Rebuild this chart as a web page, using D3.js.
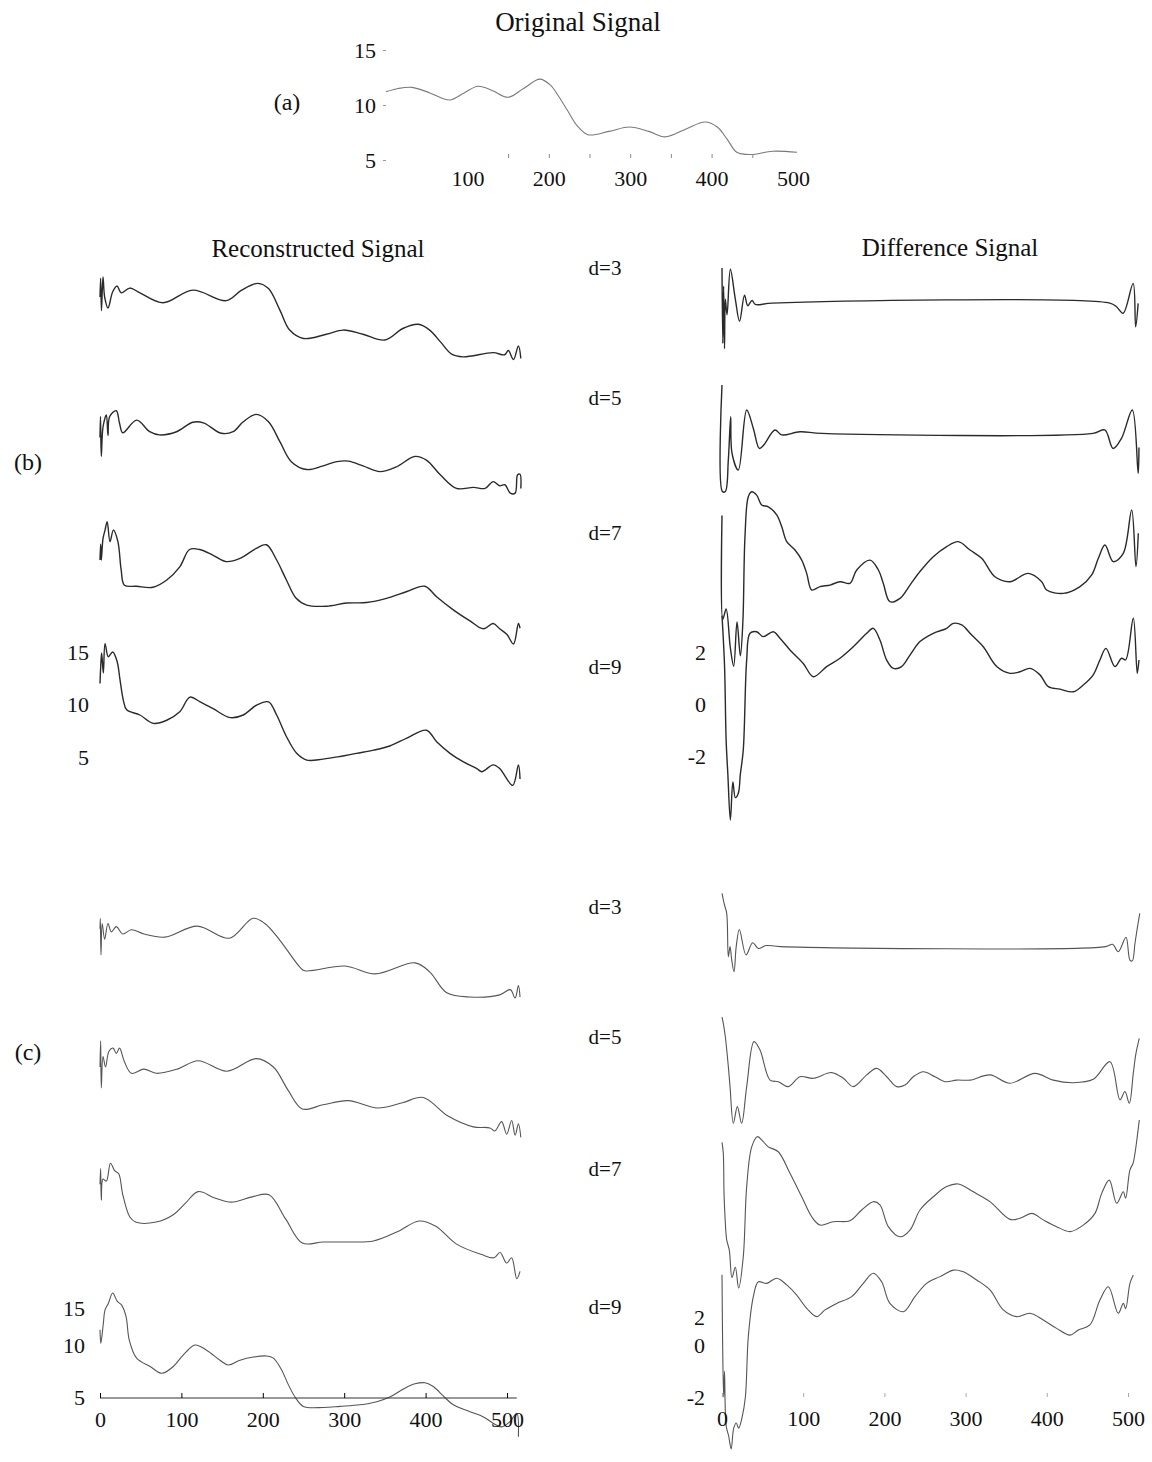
<html>
<head>
<meta charset="utf-8">
<title>Original, Reconstructed and Difference Signals</title>
<script src="https://cdn.jsdelivr.net/npm/d3@7"></script>
<style>
  body { margin: 0; background: #fff; }
  text { font-family: "Liberation Serif", "DejaVu Serif", serif; fill: #111; }
</style>
</head>
<body>
<script>
// sample index along the signal (x) and value (y)
let depths = ["d=3", "d=5", "d=7", "d=9"]
let xTicks = [0, 100, 200, 300, 400, 500]
let topTicks = [100, 200, 300, 400, 500]
let topMinor = [150, 200, 250, 300, 350, 400, 450]
let levelTicks = [15, 10, 5]
let diffTicks = [2, 0, -2]

let original = [[0,11.2],[15,11.5],[32,11.6],[54,11.1],[78,10.45],[96,11.1],[113,11.7],[131,11.3],[150,10.7],[169,11.5],[189,12.35],[202,11.8],[212,10.8],[223,9.5],[235,8.1],[248,7.3],[274,7.6],[299,8.0],[323,7.6],[343,7.1],[368,7.8],[392,8.45],[407,8.0],[419,6.9],[431,5.7],[448,5.5],[475,5.8],[505,5.7]]

// (b) reconstructed
let recB3 = [[0,11],[0.8,12.8],[1.8,9.7],[3.7,12.9],[5.7,11],[9.8,9.95],[15.6,11.5],[21,12.05],[26,11.4],[36.5,11.85],[49,11.4],[77.5,10.45],[114,11.65],[155,10.65],[174,11.65],[194,12.3],[207,11.8],[221,9.75],[233,7.85],[250,7.05],[278,7.45],[299,7.85],[323,7.45],[350,6.9],[372,8.0],[391,8.4],[405,7.85],[418,6.75],[432,5.55],[446,5.3],[483,5.7],[497,5.5],[501.6,5.9],[508,5.05],[514,6.35],[517,5.15]]
let recB5 = [[0,10],[0.6,12.0],[1.6,8.2],[3.7,11.0],[7.8,12.15],[9.8,10.2],[11.9,12.0],[20,12.55],[24,11.35],[28,10.45],[45,11.65],[61,10.55],[73,10.25],[94,10.55],[114,11.45],[127,11.4],[149,10.4],[163.5,10.55],[176,11.5],[192,12.2],[207,11.5],[221,9.6],[235,7.7],[254,6.95],[274,7.3],[291,7.7],[305,7.75],[323,7.3],[344,6.75],[364,7.2],[387,8.2],[401,7.85],[418,6.45],[438,5.15],[459,5.25],[473,5.15],[483,5.8],[491,5.4],[497.5,5.5],[504,4.7],[510,4.7],[513,6.45],[516,6.5],[517,5.15]]
let recB7 = [[0,11.0],[0.8,12.5],[1.6,11.0],[3.7,13.05],[6.2,13.85],[8.8,14.65],[12.3,12.75],[16.4,13.85],[22,12.75],[26,10.05],[30,8.6],[45,8.5],[65,8.4],[82,9.1],[98,10.35],[110,12.0],[122.5,12.0],[139,11.45],[155,10.85],[172,11.15],[192,12.1],[204.5,12.45],[217,11.0],[229,9.1],[241,7.35],[254,6.7],[278,6.6],[303,6.9],[327.5,6.95],[352,7.35],[377,8.0],[399,8.5],[413.5,7.5],[434,6.25],[454.5,5.2],[471,4.45],[483,4.95],[491,4.45],[500,3.9],[508,3.0],[514,4.95],[516,4.5]]
let recB9 = [[0,12.0],[0.8,13.5],[2,14.9],[4.1,13.0],[6.2,15.8],[10.2,14.55],[15.6,15.0],[21,14.1],[24.6,12.35],[28.7,10.4],[32.8,9.5],[49,9.0],[65.5,8.2],[82,8.5],[98,9.3],[110.5,10.7],[123,10.25],[139,9.6],[160,8.75],[176,9.0],[192.5,9.95],[207,10.25],[217,9.0],[229,6.95],[241.6,5.35],[254,4.7],[274,4.8],[295,5.05],[315,5.35],[336,5.65],[356,6.05],[377,6.8],[401,7.55],[413.6,6.45],[430,5.35],[446,4.55],[463,3.9],[469,3.6],[483,4.25],[491,3.9],[507,2.3],[514,4.25],[516,2.9]]

// (b) difference
let diffB3 = [[0,1.5],[1,-1.4],[2,0.8],[3.1,-1.6],[4.1,0.3],[6.2,-0.3],[10.3,1.45],[16.4,0.3],[21.6,-0.55],[27.7,0.45],[31.8,0.05],[37,0.25],[41,0.1],[62,0.15],[477.6,0.15],[485.8,0.01],[494,-0.24],[506.3,0.91],[509.4,-0.76],[512.5,0.14]]
let diffB5 = [[0,2.0],[0.5,-2.1],[4.1,-2.1],[7.8,-0.88],[10.7,0.78],[12.3,-0.62],[20.1,-1.27],[30.4,1.04],[38.6,0.33],[46,-0.44],[51.4,-0.31],[65.2,0.27],[73.5,0.08],[96,0.2],[123,0.14],[457,0.14],[471.4,0.27],[481.7,-0.44],[492,-0.05],[505.3,1.04],[512.5,-1.4],[513.5,-0.4]]
let diffB7 = [[0,2.1],[1,-1.9],[5.1,-1.5],[10.3,-3.0],[14.4,-3.7],[18.5,-2.0],[22.6,-3.3],[25.7,-2.0],[28.3,1.28],[32.4,2.82],[36.6,3.01],[42.7,2.88],[48.9,2.5],[57,2.43],[67.4,2.12],[73.5,1.67],[79.7,1.09],[89.9,0.77],[98.2,0.38],[104.3,-0.13],[110.5,-0.77],[120.7,-0.64],[133,-0.58],[145.3,-0.45],[157.6,-0.51],[165.9,0.0],[182.3,0.38],[192.6,0.0],[198.6,-0.51],[206.8,-1.22],[219.2,-1.09],[231.5,-0.58],[243.8,-0.06],[260.2,0.51],[276.7,0.9],[291,1.09],[305.4,0.77],[319.8,0.45],[336.1,-0.26],[354.6,-0.45],[377.2,-0.13],[393.7,-0.45],[399.8,-0.77],[420.4,-0.9],[440.9,-0.64],[455.3,-0.19],[463.5,0.45],[471.6,0.96],[481.9,0.32],[494.2,0.64],[504.5,2.31],[509.8,0.13],[512.7,1.41]]
let diffB9 = [[0,3.4],[3.1,1.5],[5.1,-1.4],[7.2,-2.7],[10.3,-4.46],[13.4,-3.0],[16.4,-3.6],[20.1,-3.43],[22.6,-2.7],[26.2,-1.77],[30.4,1.69],[34.5,2.72],[42.7,2.78],[50.8,2.59],[63.2,2.78],[71.4,2.53],[83.7,2.08],[100.1,1.56],[112.5,1.05],[128.9,1.44],[145.3,1.76],[161.7,2.2],[178.2,2.72],[186.3,2.91],[194.5,2.46],[202.8,1.69],[211,1.37],[221.2,1.44],[231.5,1.88],[243.8,2.4],[260.2,2.72],[276.7,2.91],[284.9,3.1],[295.2,3.04],[307.5,2.65],[321.8,2.2],[338.3,1.44],[354.6,1.18],[367,1.24],[379.3,1.37],[391.6,1.12],[401.9,0.67],[416.2,0.57],[432.6,0.47],[444.9,0.73],[457.2,1.12],[465.4,1.69],[472.8,2.14],[483.9,1.44],[492.1,1.76],[497.1,1.7],[506.5,3.3],[511.4,1.18],[513.5,1.69]]

// (c) reconstructed
let recC3 = [[0,11.5],[0.4,12.5],[1.2,9.0],[2.7,12.0],[5.7,10.5],[9.8,12.0],[14,11.2],[20,11.7],[28,11.0],[38.5,11.4],[54,11.0],[79.5,10.7],[119.5,11.75],[159,10.6],[188,12.5],[202.5,12.0],[221,10.4],[245.5,7.85],[251.6,7.5],[301,7.95],[338,7.2],[387,8.25],[405,7.4],[426,5.4],[454.5,5.0],[491,5.2],[504,5.7],[510,4.9],[514,6.1],[516,5.0]]
let recC5 = [[0,11.0],[0.8,13.5],[1.6,9.0],[3.7,12.0],[6.8,11.0],[11,12.5],[16,12.8],[20,12.3],[24,12.8],[30,11.5],[38.5,10.4],[54,10.8],[69,10.4],[95,10.8],[120.5,11.6],[156,10.6],[192,11.8],[213,11.0],[231,8.8],[248.6,7.0],[274,7.4],[305,7.8],[341,7.1],[371.5,7.6],[397,8.1],[428,6.3],[458.6,5.3],[479,5.2],[485,4.9],[493.4,5.8],[499.6,4.6],[505.7,5.9],[510,4.5],[514,5.6],[517,4.3]]
let recC7 = [[0,12.5],[0.8,14.0],[1.6,11.0],[3.7,13.0],[7.8,12.8],[12.9,14.5],[18,13.8],[23,13.5],[28,11.5],[36.5,9.4],[43.6,8.9],[69,8.9],[90,9.6],[105,10.7],[120.5,11.8],[141,11.2],[161.5,10.8],[187,11.3],[207.6,11.5],[228,9.2],[248.6,6.9],[274,7.0],[305,7.0],[336,7.1],[366,8.0],[392,9.0],[412.5,8.5],[438,6.8],[469,5.8],[484,5.5],[491.4,6.0],[499.6,5.0],[505.7,5.5],[512,3.5],[516,4.2]]
let recC9 = [[0,11.5],[1,10.2],[4.1,12.1],[6.2,13.4],[10.2,14.0],[15.6,15.0],[21.3,14.2],[26.6,13.85],[32,12.75],[36,10.5],[45,8.8],[61.5,8.0],[76,7.35],[90,8.0],[102.4,9.1],[116.7,10.05],[131,9.55],[147.4,8.6],[157.6,8.15],[172,8.6],[188.4,8.9],[204.8,9.0],[213,8.8],[223.3,7.65],[231.5,6.25],[239.6,5.1],[249.8,4.2],[274.4,4.1],[295,4.2],[319.4,4.35],[340,4.65],[356,5.1],[372.6,5.85],[387,6.35],[399.3,6.45],[409.4,6.1],[421.7,5.2],[434,4.35],[454.5,3.7],[471,3.2],[483,2.6],[493.4,2.25],[503.7,2.75],[512,3.55],[514,1.3]]

// (c) difference
let diffC3 = [[0,1.95],[3.1,1.5],[5.8,1.18],[7.8,-0.49],[9.9,-0.1],[11.9,-0.6],[14.8,-1.07],[17.5,-0.1],[21.4,0.56],[29.6,-0.42],[37.8,0.05],[44.8,-0.17],[54.2,-0.06],[71.9,-0.1],[472.4,-0.1],[481,-0.01],[488,-0.3],[497.5,0.26],[502.4,-0.62],[505.3,-0.65],[508.6,0.03],[511.4,0.6],[514.5,1.18]]
let diffC5 = [[0,2.3],[1.6,2.06],[4.1,1.55],[7.8,0.4],[9.9,-0.37],[14,-1.78],[18.9,-1.14],[24.2,-1.78],[30.4,-0.37],[39.4,1.36],[46.8,1.04],[59.2,-0.12],[69.3,-0.18],[81.6,-0.37],[96,0.01],[112.5,-0.05],[135,0.17],[149.4,-0.05],[161.7,-0.37],[178.2,0.08],[190.5,0.33],[202.8,0.01],[215.2,-0.37],[225.3,-0.31],[235.6,0.01],[247.9,0.2],[262.3,0.01],[274.6,-0.18],[289,-0.12],[305.4,-0.12],[330,0.08],[354.6,-0.24],[385.4,0.14],[408,-0.12],[432.6,-0.22],[457.2,-0.09],[477.8,0.59],[490.1,-0.88],[496.2,-0.56],[501.6,-1.01],[506.5,0.14],[509.8,0.91],[513.9,1.49]]
let diffC7 = [[0,2.6],[1.6,2.18],[2.5,0.64],[3.7,-0.26],[5.8,-1.15],[9,-1.54],[12.3,-2.6],[16.4,-2.2],[20.5,-3.0],[26.2,-1.8],[30.4,0.9],[36.6,2.43],[43.5,2.82],[50.8,2.63],[57,2.43],[69.3,2.24],[83.7,1.41],[98.2,0.51],[110.5,-0.26],[120.7,-0.58],[137.1,-0.45],[157.6,-0.41],[172,0.0],[186.3,0.32],[194.5,0.2],[204.8,-0.64],[219.2,-1.03],[231.5,-0.77],[243.8,0.0],[260.2,0.51],[276.7,0.9],[291,1.0],[309.5,0.7],[330,0.32],[354.6,-0.36],[367,-0.32],[381.4,-0.13],[395.7,-0.38],[412.1,-0.64],[428.6,-0.83],[444.9,-0.58],[459.3,-0.13],[467.6,0.64],[476.9,1.15],[486.1,0.26],[494.2,0.7],[497.1,0.45],[502.4,1.54],[506.3,1.8],[508.6,2.18],[511.4,2.82],[513.9,3.46]]
let diffC9 = [[0,2.7],[1,-0.5],[2.1,-2.0],[3.1,-1.0],[5.1,-3.1],[8.2,-3.5],[11.3,-4.0],[14.4,-3.2],[17.5,-3.0],[20.5,-3.2],[24.6,-2.8],[28.8,-2.0],[32.4,0.32],[38.6,1.86],[44.8,2.43],[55,2.37],[67.4,2.57],[79.7,2.31],[92,1.92],[104.3,1.41],[116.6,1.09],[126.8,1.35],[141.2,1.6],[159.7,1.86],[174,2.37],[186.3,2.76],[196.6,2.43],[206.8,1.6],[223.3,1.28],[237.6,1.86],[252,2.37],[268.5,2.63],[284.9,2.88],[297.1,2.82],[313.6,2.5],[330,2.12],[346.4,1.35],[362.9,1.09],[379.3,1.22],[395.7,0.96],[412.1,0.64],[428.6,0.38],[438.8,0.58],[453.1,0.77],[465.4,1.73],[475.8,2.24],[488,1.22],[494.2,1.6],[497.1,1.4],[502.4,2.37],[506.5,2.69]]

let recB = [recB3, recB5, recB7, recB9]
let diffB = [diffB3, diffB5, diffB7, diffB9]
let recC = [recC3, recC5, recC7, recC9]
let diffC = [diffC3, diffC5, diffC7, diffC9]

let w = 1152
let h = 1462
let svg = d3.select("body").append("svg").attr("width", w).attr("height", h)

let leftX = d3.scaleLinear().domain([0, 500]).range([100, 507])
let rightX = d3.scaleLinear().domain([0, 500]).range([722, 1128])
let topX = d3.scaleLinear().domain([0, 500]).range([386, 793])
let topY = d3.scaleLinear().domain([15, 5]).range([50, 160])

// row tops (value 15 on the left, value 2 on the right)
let bTops = [255, 385, 518, 652]
let cTops = [892, 1025, 1158, 1293]

function levelScale(top) {
    return d3.scaleLinear().domain([15, 5]).range([top, top + 105])
}
function diffScale(top) {
    return d3.scaleLinear().domain([2, -2]).range([top, top + 104])
}

function drawLine(data, x, y, color, width) {
    let line = d3.line()
        .x((d) => { return x(d[0]) })
        .y((d) => { return y(d[1]) })
        .curve(d3.curveCatmullRom.alpha(0.5))
    svg.append("path")
        .datum(data)
        .attr("d", line)
        .attr("fill", "none")
        .attr("stroke", color)
        .attr("stroke-width", width)
        .attr("stroke-linejoin", "round")
}

function addText(str, x, y, size, anchor) {
    svg.append("text")
        .attr("x", x).attr("y", y)
        .attr("font-size", size)
        .attr("text-anchor", anchor || "middle")
        .attr("dominant-baseline", "central")
        .text(str)
}

function styleAxis(g, keepDomain) {
    g.attr("font-family", "Liberation Serif").attr("font-size", 22)
    if (!keepDomain) g.select(".domain").remove()
    g.selectAll("text").attr("fill", "#111")
    return g
}

let plain = (d) => { return d < 0 ? "-" + Math.abs(d) : String(d) }

// ---- (a) original signal
addText("Original Signal", 578, 22, 27)
addText("(a)", 287, 102, 24)
drawLine(original, topX, topY, "#7a7a7a", 1.1)

let aLeft = svg.append("g")
    .attr("transform", "translate(386,0)")
    .call(d3.axisLeft(topY).tickValues(levelTicks).tickSize(3).tickPadding(7).tickFormat(plain))
styleAxis(aLeft)
aLeft.selectAll("line").attr("stroke", "#999")

let aBottom = svg.append("g")
    .attr("transform", "translate(0,160)")
    .call(d3.axisBottom(topX).tickValues(topTicks).tickSize(0).tickPadding(10))
styleAxis(aBottom)
let aMinor = svg.append("g")
    .attr("transform", "translate(0,158)")
    .call(d3.axisBottom(topX).tickValues(topMinor).tickSize(-4).tickFormat(""))
aMinor.select(".domain").remove()
aMinor.selectAll("line").attr("stroke", "#888")

// ---- column headings
addText("Reconstructed Signal", 318, 248, 25)
addText("Difference Signal", 950, 247, 25)
addText("(b)", 28, 462, 24)
addText("(c)", 28, 1052, 24)

let bLabelY = [268, 398, 533, 667]
let cLabelY = [907, 1037, 1169, 1307]

depths.forEach((dep, i) => {
    addText(dep, 605, bLabelY[i], 21)
    addText(dep, 605, cLabelY[i], 21)
    drawLine(recB[i], leftX, levelScale(bTops[i]), "#2a2a2a", 1.4)
    drawLine(diffB[i], rightX, diffScale(bTops[i]), "#2a2a2a", 1.4)
    drawLine(recC[i], leftX, levelScale(cTops[i]), "#555", 1.1)
    drawLine(diffC[i], rightX, diffScale(cTops[i]), "#555", 1.1)
})

// ---- y labels on the d=9 rows
let bLev = svg.append("g")
    .attr("transform", "translate(98,0)")
    .call(d3.axisLeft(levelScale(bTops[3])).tickValues(levelTicks).tickSize(0).tickPadding(9).tickFormat(plain))
styleAxis(bLev)
let bDif = svg.append("g")
    .attr("transform", "translate(722,0)")
    .call(d3.axisLeft(diffScale(bTops[3])).tickValues(diffTicks).tickSize(0).tickPadding(16).tickFormat(plain))
styleAxis(bDif)

// the printed labels of row (c) sit a little lower at the top
let cLevLabels = d3.scaleLinear().domain([5, 10, 15]).range([1397, 1345, 1308])
let cDifLabels = d3.scaleLinear().domain([-2, 0, 2]).range([1397, 1345, 1317])
let cLev = svg.append("g")
    .attr("transform", "translate(96,0)")
    .call(d3.axisLeft(cLevLabels).tickValues(levelTicks).tickSize(0).tickPadding(11).tickFormat(plain))
styleAxis(cLev)
let cDif = svg.append("g")
    .attr("transform", "translate(722,0)")
    .call(d3.axisLeft(cDifLabels).tickValues(diffTicks).tickSize(0).tickPadding(17).tickFormat(plain))
styleAxis(cDif)

// ---- bottom x axes
let cBase = levelScale(cTops[3])(5)
svg.append("line")
    .attr("x1", leftX(0)).attr("x2", leftX(512))
    .attr("y1", cBase).attr("y2", cBase)
    .attr("stroke", "#333").attr("stroke-width", 1.2)
let lx = svg.append("g")
    .attr("transform", "translate(0," + cBase + ")")
    .call(d3.axisBottom(leftX).tickValues(xTicks).tickSize(-5).tickPadding(13))
styleAxis(lx)

let rBase = diffScale(cTops[3])(-2)
let rx = svg.append("g")
    .attr("transform", "translate(0," + rBase + ")")
    .call(d3.axisBottom(rightX).tickValues(xTicks).tickSize(-4).tickPadding(13))
styleAxis(rx)
rx.selectAll("line").attr("stroke", "#aaa")
</script>
</body>
</html>
